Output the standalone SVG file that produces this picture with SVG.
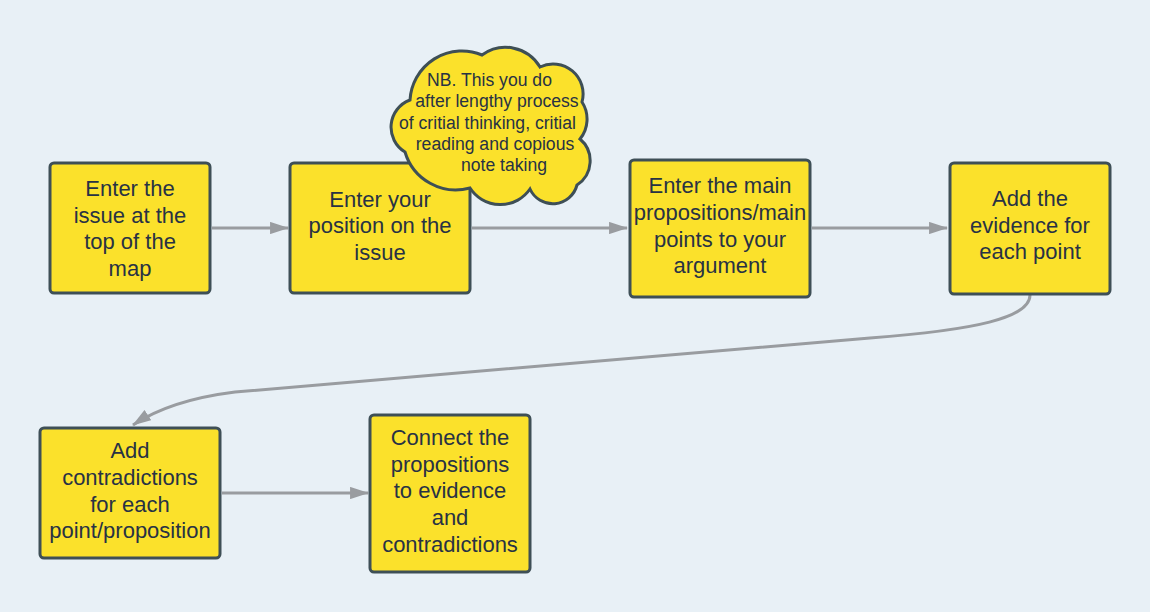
<svg xmlns="http://www.w3.org/2000/svg" width="1150" height="612" viewBox="0 0 1150 612">
<defs>
<marker id="arr" viewBox="0 0 20 13" refX="19" refY="6.5" markerWidth="6.3" markerHeight="4.2" orient="auto" markerUnits="strokeWidth">
<path d="M0,0 L20,6.5 L0,13 Z" fill="#999ca0"/>
</marker>
<style>
.box{fill:#fbe12b;stroke:#3e4f56;stroke-width:3}
.t{font-family:"Liberation Sans",Arial,sans-serif;font-size:22px;fill:#283244;text-anchor:middle}
.ct{font-family:"Liberation Sans",Arial,sans-serif;font-size:17.6px;fill:#283244;text-anchor:middle}
.c{fill:none;stroke:#999ca0;stroke-width:3;marker-end:url(#arr)}
</style>
</defs>
<rect width="1150" height="612" fill="#e8f0f6"/>
<g id="connectors">
<path class="c" d="M212,228 L288,228"/>
<path class="c" d="M472,228 L627,228"/>
<path class="c" d="M812,228 L947,228"/>
<path class="c" d="M222,493 L368,493"/>
<path class="c" d="M1030,295 C1030,318 975,330 870,338 L235,392 C195,397 160,407 133,425"/>
</g>
<g id="n1">
<rect class="box" x="50" y="163" width="160" height="130" rx="4"/>
<text class="t"><tspan x="130" y="196">Enter the</tspan><tspan x="130" y="222.7">issue at the</tspan><tspan x="130" y="249.3">top of the</tspan><tspan x="130" y="276">map</tspan></text>
</g>
<g id="n2">
<rect class="box" x="290" y="163" width="180" height="130" rx="4"/>
<text class="t"><tspan x="380" y="206.7">Enter your</tspan><tspan x="380" y="233.3">position on the</tspan><tspan x="380" y="260">issue</tspan></text>
</g>
<g id="n3">
<path class="box" d="M405,152 A29,29 0 0 1 410,100 A52,52 0 0 1 482,55 A40,40 0 0 1 540,67 A30,30 0 0 1 582,102 A31.5,31.5 0 0 1 580,139 A28.7,28.7 0 0 1 577,185 A25,25 0 0 1 530,189 A36,36 0 0 1 470,188 A53,53 0 0 1 405,152 Z"/>
<text class="ct"><tspan x="489.5" y="86">NB. This you do</tspan><tspan x="497" y="107.3">after lengthy process</tspan><tspan x="487.5" y="128.6">of critial thinking, critial</tspan><tspan x="495" y="150">reading and copious</tspan><tspan x="504" y="171.3">note taking</tspan></text>
</g>
<g id="n4">
<rect class="box" x="630" y="160" width="180" height="137" rx="4"/>
<text class="t"><tspan x="720" y="193.3">Enter the main</tspan><tspan x="720" y="220">propositions/main</tspan><tspan x="720" y="246.7">points to your</tspan><tspan x="720" y="273.3">argument</tspan></text>
</g>
<g id="n5">
<rect class="box" x="950" y="163" width="160" height="131" rx="4"/>
<text class="t"><tspan x="1030" y="206">Add the</tspan><tspan x="1030" y="232.7">evidence for</tspan><tspan x="1030" y="259.3">each point</tspan></text>
</g>
<g id="n6">
<rect class="box" x="40" y="428" width="180" height="130" rx="4"/>
<text class="t"><tspan x="130" y="458.3">Add</tspan><tspan x="130" y="485">contradictions</tspan><tspan x="130" y="511.7">for each</tspan><tspan x="130" y="538.3">point/proposition</tspan></text>
</g>
<g id="n7">
<rect class="box" x="370" y="415" width="160" height="157" rx="4"/>
<text class="t"><tspan x="450" y="445">Connect the</tspan><tspan x="450" y="471.7">propositions</tspan><tspan x="450" y="498.3">to evidence</tspan><tspan x="450" y="525">and</tspan><tspan x="450" y="551.7">contradictions</tspan></text>
</g>
</svg>
